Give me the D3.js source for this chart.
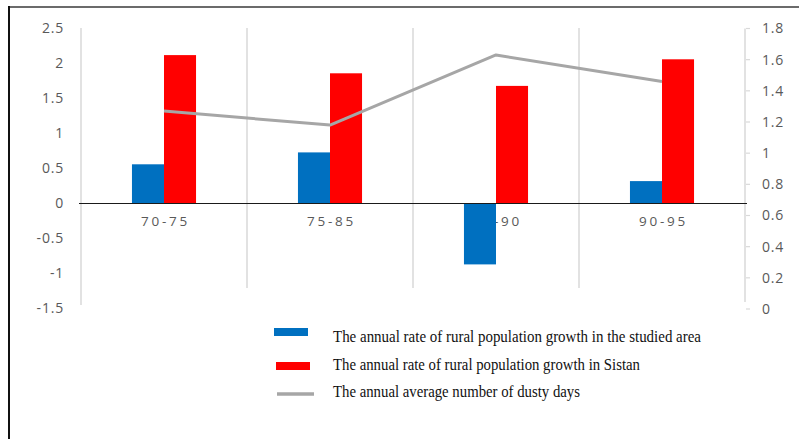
<!DOCTYPE html>
<html>
<head>
<meta charset="utf-8">
<script src="https://cdn.jsdelivr.net/npm/d3@7/dist/d3.min.js"></script>
<style>
  html, body { margin: 0; padding: 0; background: #fff; }
  svg { display: block; }
</style>
</head>
<body>
<svg id="chart" width="799" height="439"></svg>
<script>
const categories = ["70-75", "75-85", "85-90", "90-95"];
const studiedArea = [0.56, 0.73, -0.87, 0.32];
const sistan = [2.12, 1.86, 1.68, 2.06];
const dustyDays = [1.27, 1.18, 1.63, 1.46];
const leftTicks = [-1.5, -1, -0.5, 0, 0.5, 1, 1.5, 2, 2.5];
const rightTicks = [0, 0.2, 0.4, 0.6, 0.8, 1, 1.2, 1.4, 1.6, 1.8];
const seriesNames = [
  "The annual rate of rural population growth in the studied area",
  "The annual rate of rural population growth in Sistan",
  "The annual average number of dusty days"
];
const colors = ["#0070c0", "#ff0000", "#a6a6a6"];

const svg = d3.select("#chart");
svg.append("rect").attr("width", 799).attr("height", 439).attr("fill", "#fff");

// frame
svg.append("line").attr("x1", 9).attr("x2", 799).attr("y1", 7).attr("y2", 7)
  .attr("stroke", "#3a3a3a").attr("stroke-width", 1.5);
svg.append("line").attr("x1", 9).attr("x2", 9).attr("y1", 6).attr("y2", 439)
  .attr("stroke", "#111").attr("stroke-width", 2);

const pad = 0.614;
const x = d3.scaleBand().domain(categories).range([81, 745])
  .paddingInner(pad).paddingOuter(pad / 2);
const x1 = d3.scaleBand().domain([0, 1]).range([0, x.bandwidth()]);
const yL = d3.scaleLinear().domain([-1.5, 2.5]).range([308.5, 28.5]);
const yR = d3.scaleLinear().domain([0, 1.8]).range([309, 28.5]);

const boundary = c => x(c) - x.step() * pad / 2;
const fmt = d => String(+d.toFixed(1));

// vertical gridlines at category boundaries
svg.append("g").selectAll("line").data(categories).join("line")
  .attr("x1", d => boundary(d)).attr("x2", d => boundary(d))
  .attr("y1", 28).attr("y2", (d, i) => i === 0 ? 305 : 288)
  .attr("stroke", "#d9d9d9").attr("stroke-width", 1.5);

// left axis labels
svg.append("g").selectAll("text").data(leftTicks).join("text")
  .attr("x", 64).attr("y", d => yL(d)).attr("dy", "0.35em")
  .attr("text-anchor", "end")
  .attr("font-family", "Open Sans, sans-serif").attr("font-size", 14)
  .attr("letter-spacing", 0.8)
  .attr("fill", "#595959")
  .text(fmt);

// right axis
const gR = svg.append("g");
gR.append("line").attr("x1", 745).attr("x2", 745).attr("y1", yR(1.8)).attr("y2", 302)
  .attr("stroke", "#d9d9d9").attr("stroke-width", 1.5);
gR.selectAll("line.tk").data(rightTicks).join("line").attr("class", "tk")
  .attr("x1", 746).attr("x2", 750).attr("y1", d => yR(d)).attr("y2", d => yR(d))
  .attr("stroke", "#d9d9d9").attr("stroke-width", 1.2);
gR.selectAll("text").data(rightTicks).join("text")
  .attr("x", 762).attr("y", d => yR(d)).attr("dy", "0.35em")
  .attr("font-family", "Open Sans, sans-serif").attr("font-size", 14)
  .attr("letter-spacing", 0.8)
  .attr("fill", "#595959")
  .text(fmt);

// category labels
svg.append("g").selectAll("text").data(categories).join("text")
  .attr("x", d => x(d) + x.bandwidth() / 2 + 1.5).attr("y", yL(0) + 18)
  .attr("dy", "0.35em").attr("text-anchor", "middle")
  .attr("font-family", "Open Sans, sans-serif").attr("font-size", 13.5)
  .attr("letter-spacing", 2.8)
  .attr("fill", "#595959")
  .text(d => d);

// bars
const series = [studiedArea, sistan];
series.forEach((vals, s) => {
  svg.append("g").selectAll("rect").data(vals).join("rect")
    .attr("x", (d, i) => x(categories[i]) + x1(s))
    .attr("width", x1.bandwidth())
    .attr("y", d => yL(Math.max(0, d)))
    .attr("height", d => Math.abs(yL(d) - yL(0)))
    .attr("fill", colors[s]);
});

// zero line
svg.append("line").attr("x1", 79).attr("x2", 747).attr("y1", yL(0)).attr("y2", yL(0))
  .attr("stroke", "#1a1a1a").attr("stroke-width", 1.2);

// line series
const line = d3.line()
  .x((d, i) => x(categories[i]) + x.bandwidth() / 2)
  .y(d => yR(d));
svg.append("path").datum(dustyDays).attr("d", line)
  .attr("fill", "none").attr("stroke", colors[2]).attr("stroke-width", 3)
  .attr("stroke-linejoin", "round");

// legend
const legend = svg.append("g");
const legY = [336, 364, 391.5];
const legW = [368, 307, 247];
legend.append("rect").attr("x", 274).attr("y", 328).attr("width", 34).attr("height", 8).attr("fill", colors[0]);
legend.append("rect").attr("x", 276).attr("y", 362).attr("width", 34).attr("height", 8).attr("fill", colors[1]);
legend.append("line").attr("x1", 277).attr("x2", 314).attr("y1", 394).attr("y2", 394)
  .attr("stroke", colors[2]).attr("stroke-width", 3.5);
legend.selectAll("text").data(seriesNames).join("text")
  .attr("x", 333).attr("y", (d, i) => legY[i]).attr("dy", "0.35em")
  .attr("font-family", "Liberation Serif, serif").attr("font-size", 17)
  .attr("fill", "#111")
  .attr("textLength", (d, i) => legW[i]).attr("lengthAdjust", "spacingAndGlyphs")
  .text(d => d);
</script>
</body>
</html>
